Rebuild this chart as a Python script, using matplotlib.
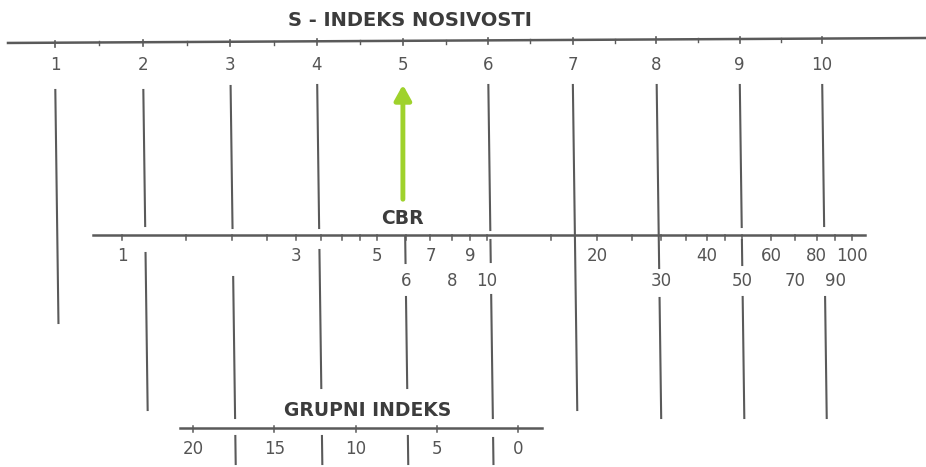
import matplotlib.pyplot as plt
import numpy as np

# S - bearing index scale (top)
s_values = [1, 2, 3, 4, 5, 6, 7, 8, 9, 10]
s_minor = [1.5, 2.5, 3.5, 4.5, 5.5, 6.5, 7.5, 8.5, 9.5]
s_marked = 5   # green arrow

# CBR scale (middle, logarithmic)
cbr_upper_labels = [1, 3, 5, 7, 9, 20, 40, 60, 80, 100]
cbr_lower_labels = [6, 8, 10, 30, 50, 70, 90]
cbr_ticks = [1, 1.5, 2, 2.5, 3, 3.5, 4, 4.5, 5, 6, 7, 8, 9, 10,
             15, 20, 25, 30, 35, 40, 45, 50, 60, 70, 80, 90, 100]

# group index scale (bottom)
gi_labels = [20, 15, 10, 5, 0]
gi_ticks = [20, 15, 10, 5, 0]


# scale -> pixel mappings of the scanned nomogram
def s_x(s):
    return -33.7 + 89.07 * s - 0.35 * s ** 2

def cbr_x(c):
    return 122 + 365 * np.log10(c)

def gi_x(g):
    return 518 - 16.25 * g

SKEW = 0.0135   # scan is slightly tilted

def skew(x, y):
    return x + SKEW * (y - 68)

# pieces of every vertical reading line (y ranges)
s_segments = {
    1: [(90, 323)],
    2: [(90, 226), (253, 410)],
    3: [(86, 228), (277, 418), (436, 464)],
    4: [(85, 228), (250, 388), (436, 464)],
    5: [(237, 263), (297, 388), (436, 464)],
    6: [(85, 230), (240, 262), (295, 418), (438, 464)],
    7: [(85, 410)],
    8: [(85, 268), (298, 418)],
    9: [(85, 227), (240, 265), (297, 418)],
    10: [(85, 226), (297, 418)],
}

grey = "#5a5a5a"
txt = "#555555"
head = "#3c3c3c"
plt.rcParams['font.family'] = ['DejaVu Sans']

fig = plt.figure(figsize=(9.26, 4.67), dpi=100)
ax = fig.add_axes([0, 0, 1, 1])
ax.set_xlim(0, 926)
ax.set_ylim(467, 0)
ax.axis('off')

# ---- top S scale
top_y = lambda x: 43 - 5 * x / 926
ax.plot([8, 926], [top_y(8), top_y(926)], color=grey, lw=1.8)
for s in s_values:
    x = s_x(s)
    ax.plot([x, x], [top_y(x) - 2, top_y(x) + 4], color=grey, lw=1.2)
    ax.text(x, 65, str(s), ha='center', va='center', fontsize=12, color=txt)
for s in s_minor:
    x = s_x(s)
    ax.plot([x, x], [top_y(x) - 1, top_y(x) + 3], color=grey, lw=1)
ax.text(410, 21, "S - INDEKS NOSIVOSTI", ha='center', va='center',
        fontsize=14, fontweight='bold', color=head)

# ---- vertical reading lines
for s in s_values:
    x0 = s_x(s)
    for y1, y2 in s_segments[s]:
        ax.plot([skew(x0, y1), skew(x0, y2)], [y1, y2], color=grey, lw=1.5)

# green arrow at S = 5
xa = s_x(s_marked)
ax.annotate("", xy=(xa, 82), xytext=(xa, 202),
            arrowprops=dict(arrowstyle="-|>,head_width=0.5,head_length=0.9",
                            color="#9fd22c", lw=3.5))

# ---- CBR scale
cbr_y = 235
ax.plot([93, 865], [cbr_y, cbr_y], color=grey, lw=1.8)
for c in cbr_ticks:
    x = cbr_x(c)
    ax.plot([x, x], [cbr_y, cbr_y + 5], color=grey, lw=1.1)
for c in cbr_upper_labels:
    ax.text(cbr_x(c), 256, str(c), ha='center', va='center', fontsize=12, color=txt)
for c in cbr_lower_labels:
    ax.text(cbr_x(c), 281, str(c), ha='center', va='center', fontsize=12, color=txt)
ax.text(402, 219, "CBR", ha='center', va='center', fontsize=13.5,
        fontweight='bold', color=head)

# ---- group index scale
gi_y = 428
ax.plot([180, 542], [gi_y, gi_y], color=grey, lw=1.8)
for g in gi_ticks:
    x = gi_x(g)
    ax.plot([x, x], [gi_y - 2, gi_y + 4], color=grey, lw=1.1)
for g in gi_labels:
    ax.text(gi_x(g), 449, str(g), ha='center', va='center', fontsize=12, color=txt)
ax.text(368, 411, "GRUPNI INDEKS", ha='center', va='center', fontsize=13.5,
        fontweight='bold', color=head)

fig.savefig("out.png", dpi=100, facecolor='white')
